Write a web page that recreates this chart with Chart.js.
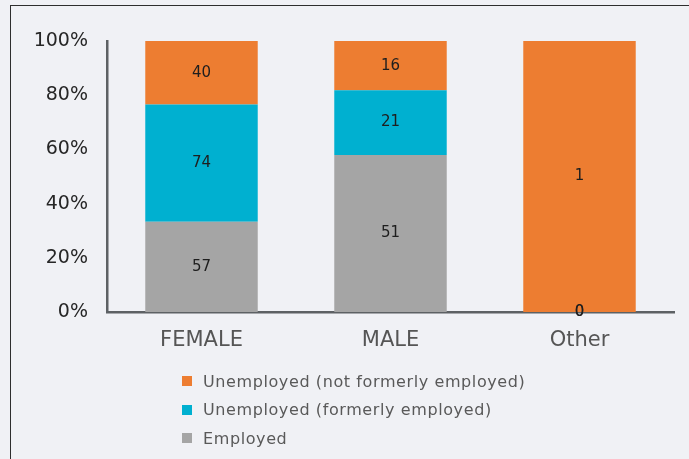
<!DOCTYPE html>
<html>
<head>
<meta charset="utf-8">
<script src="https://cdn.jsdelivr.net/npm/chart.js@4.4.1/dist/chart.umd.min.js"></script>
<style>
    body { margin: 0; background: #f0f1f5; }
    #wrap { position: relative; width: 689px; height: 459px; overflow: hidden; background: #f0f1f5; }
    #frame { position: absolute; left: 10px; top: 5px; width: 700px; height: 470px; border: 1.5px solid #2e2e2e; }
    #chart { position: absolute; left: 0; top: 0; }
    #legend { position: absolute; left: 182px; top: 367px; font-family: 'DejaVu Sans', sans-serif; font-size: 16px; letter-spacing: 0.6px; color: #595959; }
    .item { height: 28.5px; display: flex; align-items: center; }
    .box { width: 10px; height: 10px; margin-right: 11px; }
</style>
</head>
<body>
<div id="wrap">
    <div id="frame"></div>
    <canvas id="chart" width="689" height="459"></canvas>
    <div id="legend"></div>
</div>
<script>
const categories = ['FEMALE', 'MALE', 'Other'];
const employed = [57, 51, 0];
const formerlyEmployed = [74, 21, 0];
const notFormerlyEmployed = [40, 16, 1];
const yTicks = [0, 20, 40, 60, 80, 100];

const seriesNames = ['Employed', 'Unemployed (formerly employed)', 'Unemployed (not formerly employed)'];
const seriesColors = ['#a5a5a5', '#00b0d0', '#ed7d31'];
const counts = [employed, formerlyEmployed, notFormerlyEmployed];

const totals = categories.map((c, i) => employed[i] + formerlyEmployed[i] + notFormerlyEmployed[i]);

// value labels in the middle of each segment (raw counts)
const valueLabels = {
    id: 'valueLabels',
    afterDatasetsDraw(chart) {
        const ctx = chart.ctx;
        ctx.save();
        ctx.font = '15px "DejaVu Sans"';
        ctx.fillStyle = '#1e1e1e';
        ctx.textAlign = 'center';
        ctx.textBaseline = 'middle';
        chart.data.datasets.forEach((ds, di) => {
            const meta = chart.getDatasetMeta(di);
            meta.data.forEach((bar, i) => {
                ctx.fillText(String(ds.counts[i]), bar.x, (bar.y + bar.base) / 2);
            });
        });
        ctx.restore();
    }
};

const datasets = counts.map((arr, k) => ({
    label: seriesNames[k],
    data: arr.map((v, i) => v / totals[i] * 100),
    counts: arr,
    backgroundColor: seriesColors[k],
    borderWidth: 0,
    barPercentage: 0.595,
    categoryPercentage: 1
}));

const chart = new Chart(document.getElementById('chart').getContext('2d'), {
    type: 'bar',
    data: { labels: categories, datasets: datasets },
    options: {
        responsive: false,
        devicePixelRatio: 1,
        animation: false,
        layout: { padding: { left: 0, right: 15, top: 41, bottom: 0 } },
        plugins: { legend: { display: false }, tooltip: { enabled: false } },
        scales: {
            x: {
                stacked: true,
                grid: { display: false },
                border: { display: true, color: '#5d6164', width: 2.5 },
                ticks: { padding: 8, color: '#555555', font: { family: 'DejaVu Sans', size: 21 } },
                afterFit(scale) { scale.height = 147; }
            },
            y: {
                stacked: true,
                min: 0,
                max: 100,
                afterBuildTicks(scale) { scale.ticks = yTicks.map(v => ({ value: v })); },
                grid: { display: false },
                border: { display: true, color: '#5d6164', width: 2.5 },
                ticks: {
                    padding: 11,
                    color: '#262626',
                    font: { family: 'DejaVu Sans', size: 19 },
                    callback: v => v + '%'
                },
                afterFit(scale) { scale.width = 107; }
            }
        }
    },
    plugins: [valueLabels]
});

// legend, top to bottom in reverse stacking order
const legend = document.getElementById('legend');
for (let k = seriesNames.length - 1; k >= 0; k--) {
    const item = document.createElement('div');
    item.className = 'item';
    item.innerHTML = '<span class="box" style="background:' + seriesColors[k] + '"></span>' + seriesNames[k];
    legend.appendChild(item);
}
</script>
</body>
</html>
